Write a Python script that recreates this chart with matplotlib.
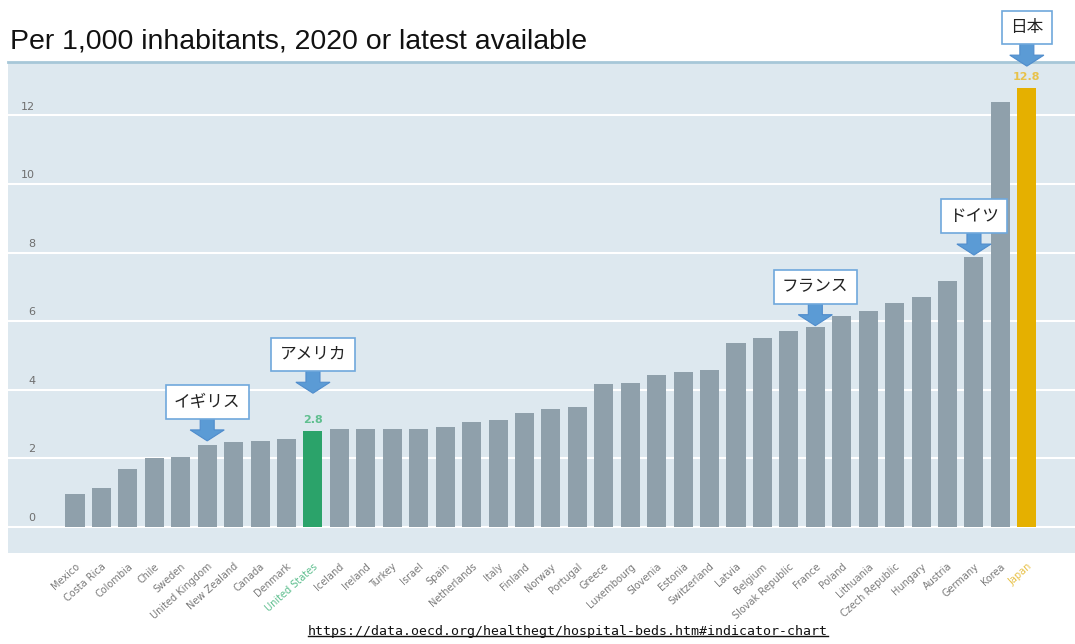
import matplotlib
matplotlib.use("Agg")
import matplotlib.pyplot as plt
from matplotlib.patches import FancyArrow
from matplotlib.lines import Line2D
import numpy as np

plt.rcParams['font.family'] = ['Noto Sans CJK JP', 'DejaVu Sans']

countries = ["Mexico", "Costa Rica", "Colombia", "Chile", "Sweden", "United Kingdom",
             "New Zealand", "Canada", "Denmark", "United States", "Iceland", "Ireland",
             "Turkey", "Israel", "Spain", "Netherlands", "Italy", "Finland", "Norway",
             "Portugal", "Greece", "Luxembourg", "Slovenia", "Estonia", "Switzerland",
             "Latvia", "Belgium", "Slovak Republic", "France", "Poland", "Lithuania",
             "Czech Republic", "Hungary", "Austria", "Germany", "Korea", "Japan"]
beds = [0.95, 1.15, 1.68, 2.0, 2.05, 2.4, 2.47, 2.5, 2.56, 2.8, 2.85, 2.86,
        2.86, 2.87, 2.92, 3.05, 3.13, 3.32, 3.45, 3.5, 4.17, 4.2, 4.42, 4.52,
        4.58, 5.37, 5.5, 5.72, 5.84, 6.15, 6.31, 6.54, 6.72, 7.18, 7.88, 12.38, 12.8]
yticks = [0, 2, 4, 6, 8, 10, 12]

# highlighted bars, their colours and value labels
highlight = {"United States": ("#2ba36a", "#5fbf8f"), "Japan": ("#e5b000", "#e8c24a")}

# callouts: country, label, gap between arrow tip and bar top
callouts = ["United Kingdom", "United States", "France", "Germany", "Japan"]
callout_text = ["イギリス", "アメリカ", "フランス", "ドイツ", "日本"]
callout_gap = [0.11, 1.1, 0.03, 0.05, 0.64]

title = "Per 1,000 inhabitants, 2020 or latest available"
url = "https://data.oecd.org/healthegt/hospital-beds.htm#indicator-chart"

W, H = 1075, 644
fig = plt.figure(figsize=(W / 100, H / 100), dpi=100)
ax = fig.add_axes([8 / W, 1 - 553 / H, 1 - 8 / W, (553 - 62) / H])
ax.set_facecolor("#dde8ef")

x = np.arange(len(countries))
colors = [highlight[c][0] if c in highlight else "#8fa0ab" for c in countries]
ax.bar(x, beds, width=0.72, color=colors, zorder=2)

ax.set_xlim(-67 / 26.44, 1000 / 26.44)
ax.set_ylim(-0.76, 13.56)

for v in yticks:
    ax.axhline(v, color="white", lw=1.5, zorder=1)
    ax.text(-1.51, v + 0.26, str(v), ha="right", va="center", fontsize=8,
            color="#6e6e6e", family="DejaVu Sans")

ax.set_yticks([])
ax.set_xticks(x)
ax.set_xticklabels(countries, rotation=42, ha="right", rotation_mode="anchor",
                   fontsize=7, color="#7a7a7a", family="DejaVu Sans")
ax.tick_params(axis="x", length=0, pad=6)
for lbl, c in zip(ax.get_xticklabels(), countries):
    if c in highlight:
        lbl.set_color(highlight[c][1])

for s in ["left", "right", "bottom"]:
    ax.spines[s].set_visible(False)
ax.spines["top"].set_color("#a7c7d8")
ax.spines["top"].set_linewidth(2)

# value labels on highlighted bars
for c, (bar_c, txt_c) in highlight.items():
    i = countries.index(c)
    ax.text(i, beds[i] + 0.17, f"{beds[i]:.1f}", ha="center", va="bottom",
            fontsize=8, fontweight="bold", color=txt_c, family="DejaVu Sans")

# arrows with boxed Japanese names
for c, txt, gap in zip(callouts, callout_text, callout_gap):
    i = countries.index(c)
    tip = beds[i] + gap
    arr = FancyArrow(i, tip + 0.67, 0, -0.67, width=0.53, head_width=1.29,
                     head_length=0.32, length_includes_head=True,
                     fc="#5b9bd5", ec="#4f8ccc", lw=0.8, zorder=4, clip_on=False)
    ax.add_patch(arr)
    ax.text(i, tip + 0.67 + 0.46, txt, ha="center", va="center", fontsize=12,
            color="#222222", zorder=5, clip_on=False,
            bbox=dict(boxstyle="square,pad=0.5", fc="white", ec="#6fa8dc", lw=1.2))

fig.text(10 / W, 1 - 42 / H, title, fontsize=20.5, va="center", color="#111111",
         family="Liberation Sans")

link = fig.text(568 / W, 1 - 631 / H, url, ha="center", va="center",
                fontsize=9.5, family="DejaVu Sans Mono", color="#111111")
fig.canvas.draw()
bb = link.get_window_extent().transformed(fig.transFigure.inverted())
fig.add_artist(Line2D([bb.x0, bb.x1], [bb.y0 + 0.002, bb.y0 + 0.002],
                      transform=fig.transFigure, color="#111111", lw=1))

fig.savefig("out.png", dpi=100)
